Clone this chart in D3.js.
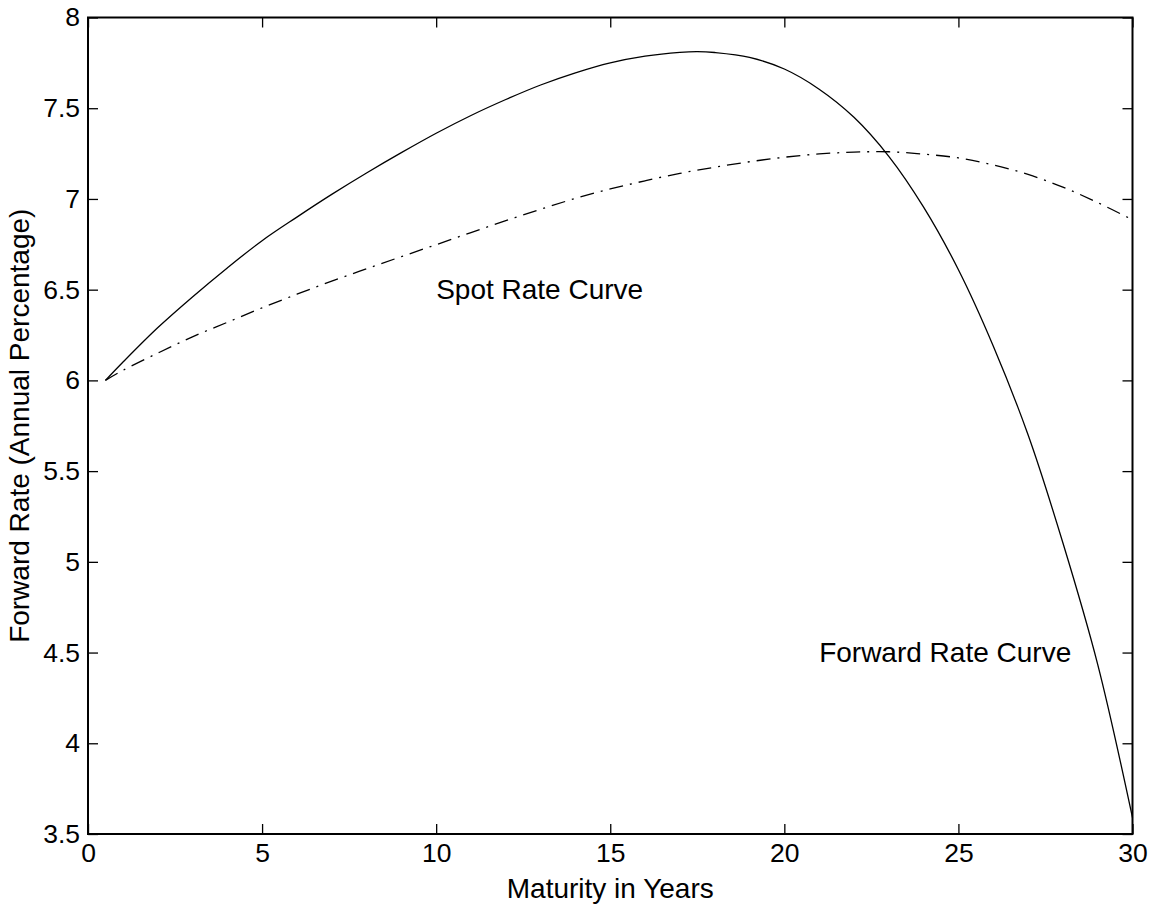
<!DOCTYPE html>
<html>
<head>
<meta charset="utf-8">
<script src="https://cdn.jsdelivr.net/npm/d3@7"></script>
<style>
  body { margin: 0; background: #fff; }
  text { font-family: "Liberation Sans", Arial, Helvetica, sans-serif; fill: #000; }
</style>
</head>
<body>
<svg id="chart" width="1157" height="909"></svg>
<script>
// maturities (years) and rates
var fwdYears = [0.5, 1, 2, 3, 4, 5, 6, 7, 8, 9, 10, 11, 12, 13, 14, 15, 16, 17, 17.5, 18, 19, 20, 21, 22, 23, 24, 25, 26, 27, 28, 29, 30];
var fwdRates = [6.00, 6.10, 6.29, 6.46, 6.62, 6.77, 6.90, 7.025, 7.143, 7.255, 7.362, 7.46, 7.548, 7.628, 7.695, 7.75, 7.787, 7.808, 7.812, 7.807, 7.78, 7.716, 7.605, 7.45, 7.235, 6.955, 6.61, 6.19, 5.70, 5.105, 4.435, 3.59];

var spotYears = [0.5, 1, 2, 3, 4, 5, 6, 7, 8, 9, 10, 11, 12, 13, 14, 15, 16, 17, 18, 19, 20, 21, 22, 23, 24, 25, 26, 27, 28, 29, 30];
var spotRates = [6.00, 6.055, 6.15, 6.24, 6.32, 6.40, 6.475, 6.547, 6.615, 6.682, 6.748, 6.815, 6.88, 6.943, 7.003, 7.055, 7.10, 7.141, 7.175, 7.205, 7.23, 7.248, 7.258, 7.26, 7.247, 7.226, 7.187, 7.135, 7.065, 6.98, 6.885];

var xTicks = [0, 5, 10, 15, 20, 25, 30];
var yTicks = [3.5, 4, 4.5, 5, 5.5, 6, 6.5, 7, 7.5, 8];

var labels = [
    {text: "Spot Rate Curve", x: 10, y: 6.5},
    {text: "Forward Rate Curve", x: 21, y: 4.5}
];

var svg = d3.select("#chart");
var pLeft = 88, pRight = 1132.5, pTop = 17.5, pBottom = 834;

var x = d3.scaleLinear().domain([0, 30]).range([pLeft, pRight]);
var y = d3.scaleLinear().domain([3.5, 8]).range([pBottom, pTop]);

var tickLen = 10;

// curves
var line = d3.line()
    .x(function (d) { return x(d[0]); })
    .y(function (d) { return y(d[1]); })
    .curve(d3.curveCatmullRom.alpha(0.5));

var fwd = fwdYears.map(function (t, i) { return [t, fwdRates[i]]; });
var spot = spotYears.map(function (t, i) { return [t, spotRates[i]]; });

svg.append("path")
    .attr("d", line(fwd))
    .attr("fill", "none")
    .attr("stroke", "#000")
    .attr("stroke-width", 1.3);

svg.append("path")
    .attr("d", line(spot))
    .attr("fill", "none")
    .attr("stroke", "#000")
    .attr("stroke-width", 1.3)
    .attr("stroke-dasharray", "14,7,2,7");

// axes (ticks point inward on all four sides)
svg.append("g")
    .attr("transform", "translate(0," + pBottom + ")")
    .call(d3.axisBottom(x).tickValues(xTicks).tickSize(-tickLen).tickPadding(9).tickFormat(d3.format("d")))
    .call(function (g) { g.select(".domain").remove(); });

svg.append("g")
    .attr("transform", "translate(0," + pTop + ")")
    .call(d3.axisTop(x).tickValues(xTicks).tickSize(-tickLen).tickFormat(""))
    .call(function (g) { g.select(".domain").remove(); });

svg.append("g")
    .attr("transform", "translate(" + pLeft + ",0)")
    .call(d3.axisLeft(y).tickValues(yTicks).tickSize(-tickLen).tickPadding(8).tickFormat(d3.format("")))
    .call(function (g) { g.select(".domain").remove(); });

svg.append("g")
    .attr("transform", "translate(" + pRight + ",0)")
    .call(d3.axisRight(y).tickValues(yTicks).tickSize(-tickLen).tickFormat(""))
    .call(function (g) { g.select(".domain").remove(); });

svg.selectAll(".tick line").attr("stroke", "#000").attr("stroke-width", 1.3);
svg.selectAll(".tick text")
    .attr("font-size", 26.5)
    .attr("font-family", "Liberation Sans, Arial, sans-serif")
    .attr("fill", "#000");

// box
svg.append("rect")
    .attr("x", pLeft)
    .attr("y", pTop)
    .attr("width", pRight - pLeft)
    .attr("height", pBottom - pTop)
    .attr("fill", "none")
    .attr("stroke", "#000")
    .attr("stroke-width", 2);

// annotations
svg.selectAll(".note")
    .data(labels)
    .enter().append("text")
    .attr("class", "note")
    .attr("x", function (d) { return x(d.x); })
    .attr("y", function (d) { return y(d.y); })
    .attr("dy", "0.35em")
    .attr("font-size", 28)
    .text(function (d) { return d.text; });

// axis titles
svg.append("text")
    .attr("x", (pLeft + pRight) / 2)
    .attr("y", 898)
    .attr("text-anchor", "middle")
    .attr("font-size", 28)
    .text("Maturity in Years");

svg.append("text")
    .attr("transform", "translate(29," + (pTop + pBottom) / 2 + ") rotate(-90)")
    .attr("text-anchor", "middle")
    .attr("font-size", 28)
    .text("Forward Rate (Annual Percentage)");
</script>
</body>
</html>
